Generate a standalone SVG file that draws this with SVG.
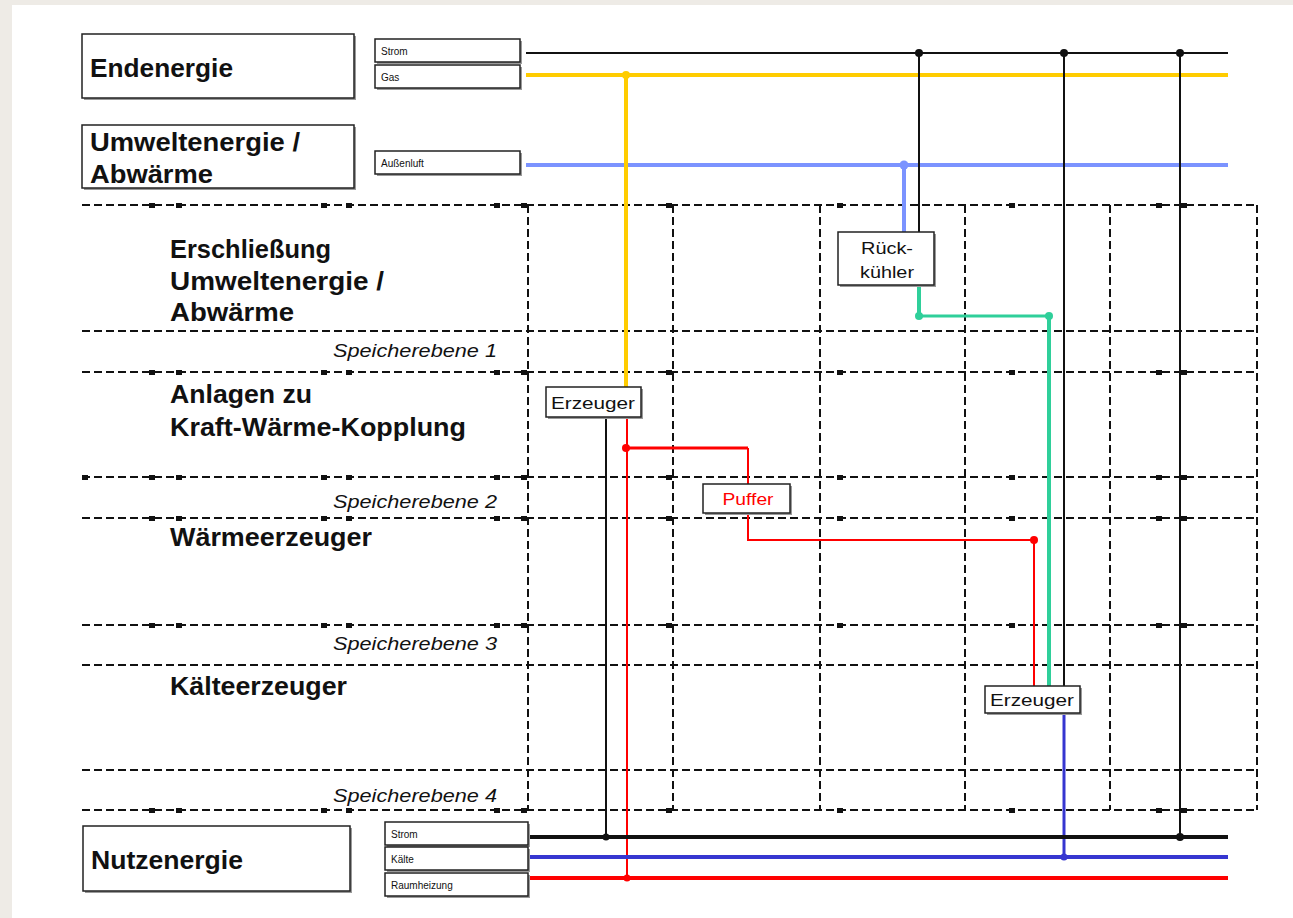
<svg xmlns="http://www.w3.org/2000/svg" xmlns:xlink="http://www.w3.org/1999/xlink" width="1293" height="918" viewBox="0 0 1293 918">
<style>
text{font-family:"Liberation Sans",Arial,sans-serif;fill:#111}
.big{font-size:26px;font-weight:bold}
.row{font-size:26px;font-weight:bold}
.sp{font-size:19px;font-style:italic}
.small{font-size:10px}
.node{font-size:17px;text-anchor:middle}
.box{fill:#fff;stroke:#222;stroke-width:1.5}
.shadow{fill:#9a9a9a}
.grid{stroke:#111;stroke-width:2;stroke-dasharray:8 4;fill:none}
.c{fill:none;stroke-linecap:butt}
</style>
<defs>
<rect id="sq" width="6" height="5" fill="#111"/>
</defs>
<rect x="0" y="0" width="1293" height="918" fill="#eeebe6"/>
<rect x="12" y="5" width="1281" height="913" fill="#fff"/>

<g id="grid">
<path class="grid" d="M82 205H1257M82 331H1257M82 372H1257M82 477H1257M82 518H1257M82 625H1257M82 665H1257M82 770H1257M82 810H1257"/>
<path class="grid" d="M528 205V810M673 205V810M820 205V810M965 205V810M1110 205V810M1257 205V810"/>
<g id="squares">
<use href="#sq" x="149" y="203"/><use href="#sq" x="176" y="203"/><use href="#sq" x="321" y="203"/><use href="#sq" x="346" y="203"/><use href="#sq" x="494" y="203"/><use href="#sq" x="521" y="203"/><use href="#sq" x="666" y="203"/><use href="#sq" x="837" y="203"/><use href="#sq" x="1009" y="203"/><use href="#sq" x="1156" y="203"/><use href="#sq" x="1181" y="203"/>
<use href="#sq" x="149" y="370"/><use href="#sq" x="176" y="370"/><use href="#sq" x="321" y="370"/><use href="#sq" x="346" y="370"/><use href="#sq" x="494" y="370"/><use href="#sq" x="521" y="370"/><use href="#sq" x="666" y="370"/><use href="#sq" x="837" y="370"/><use href="#sq" x="1009" y="370"/><use href="#sq" x="1156" y="370"/><use href="#sq" x="1181" y="370"/>
<use href="#sq" x="82" y="475"/><use href="#sq" x="149" y="475"/><use href="#sq" x="176" y="475"/><use href="#sq" x="321" y="475"/><use href="#sq" x="346" y="475"/><use href="#sq" x="494" y="475"/><use href="#sq" x="521" y="475"/><use href="#sq" x="666" y="475"/><use href="#sq" x="837" y="475"/><use href="#sq" x="1009" y="475"/><use href="#sq" x="1156" y="475"/><use href="#sq" x="1181" y="475"/>
<use href="#sq" x="149" y="516"/><use href="#sq" x="176" y="516"/><use href="#sq" x="321" y="516"/><use href="#sq" x="346" y="516"/><use href="#sq" x="494" y="516"/><use href="#sq" x="521" y="516"/><use href="#sq" x="666" y="516"/><use href="#sq" x="837" y="516"/><use href="#sq" x="1009" y="516"/><use href="#sq" x="1156" y="516"/><use href="#sq" x="1181" y="516"/>
<use href="#sq" x="149" y="623"/><use href="#sq" x="176" y="623"/><use href="#sq" x="321" y="623"/><use href="#sq" x="346" y="623"/><use href="#sq" x="494" y="623"/><use href="#sq" x="521" y="623"/><use href="#sq" x="666" y="623"/><use href="#sq" x="837" y="623"/><use href="#sq" x="1009" y="623"/><use href="#sq" x="1156" y="623"/><use href="#sq" x="1181" y="623"/>
<use href="#sq" x="149" y="808"/><use href="#sq" x="176" y="808"/><use href="#sq" x="321" y="808"/><use href="#sq" x="346" y="808"/><use href="#sq" x="494" y="808"/><use href="#sq" x="521" y="808"/><use href="#sq" x="666" y="808"/><use href="#sq" x="837" y="808"/><use href="#sq" x="1009" y="808"/><use href="#sq" x="1156" y="808"/><use href="#sq" x="1181" y="808"/>
</g>
</g>

<g id="row-labels">
<text class="row" x="170" y="258" textLength="161" lengthAdjust="spacingAndGlyphs">Erschließung</text>
<text class="row" x="170" y="290" textLength="214" lengthAdjust="spacingAndGlyphs">Umweltenergie /</text>
<text class="row" x="170" y="321" textLength="124" lengthAdjust="spacingAndGlyphs">Abwärme</text>
<text class="sp" x="333" y="357" textLength="164" lengthAdjust="spacingAndGlyphs">Speicherebene 1</text>
<text class="row" x="170" y="403" textLength="142" lengthAdjust="spacingAndGlyphs">Anlagen zu</text>
<text class="row" x="170" y="436" textLength="296" lengthAdjust="spacingAndGlyphs">Kraft-Wärme-Kopplung</text>
<text class="sp" x="333" y="508" textLength="164" lengthAdjust="spacingAndGlyphs">Speicherebene 2</text>
<text class="row" x="170" y="546" textLength="202" lengthAdjust="spacingAndGlyphs">Wärmeerzeuger</text>
<text class="sp" x="333" y="650" textLength="164" lengthAdjust="spacingAndGlyphs">Speicherebene 3</text>
<text class="row" x="170" y="695" textLength="177" lengthAdjust="spacingAndGlyphs">Kälteerzeuger</text>
<text class="sp" x="333" y="802" textLength="164" lengthAdjust="spacingAndGlyphs">Speicherebene 4</text>
</g>

<g id="connectors">
<path class="c" d="M526 53H1228" stroke="#111" stroke-width="2"/>
<path class="c" d="M526 75H1228" stroke="#ffcc00" stroke-width="4"/>
<path class="c" d="M526 165H1228" stroke="#7b93ff" stroke-width="4"/>
<path class="c" d="M919 53V232M1064 53V686M1180 53V837" stroke="#111" stroke-width="2"/>
<path class="c" d="M626 75V388" stroke="#ffcc00" stroke-width="4"/>
<path class="c" d="M904 165V232" stroke="#7b93ff" stroke-width="4"/>
<path class="c" d="M919 285V316" stroke="#2fcf9a" stroke-width="4"/>
<path class="c" d="M919 316H1049" stroke="#2fcf9a" stroke-width="3"/>
<path class="c" d="M1049 316V686" stroke="#2fcf9a" stroke-width="4"/>
<path class="c" d="M606 417V837" stroke="#111" stroke-width="2"/>
<path class="c" d="M627 417V878" stroke="#ff0000" stroke-width="2"/>
<path class="c" d="M626 448H748" stroke="#ff0000" stroke-width="3"/>
<path class="c" d="M748 448V484" stroke="#ff0000" stroke-width="2"/>
<path class="c" d="M748 513V540H1034V686" stroke="#ff0000" stroke-width="2"/>
<path class="c" d="M1064 713V857" stroke="#3636d0" stroke-width="3"/>
<path class="c" d="M528 837H1228" stroke="#111" stroke-width="4"/>
<path class="c" d="M528 857H1228" stroke="#3636d0" stroke-width="4"/>
<path class="c" d="M528 878H1228" stroke="#ff0000" stroke-width="4"/>
<g fill="#111">
<circle cx="919" cy="53" r="4"/><circle cx="1064" cy="53" r="4"/><circle cx="1180" cy="53" r="4"/>
<circle cx="1180" cy="837" r="4"/><circle cx="606" cy="837" r="3.5"/>
</g>
<circle cx="626" cy="75" r="4" fill="#ffcc00"/>
<circle cx="904" cy="165" r="4.5" fill="#7b93ff"/>
<circle cx="919" cy="316" r="4" fill="#2fcf9a"/>
<circle cx="1049" cy="316" r="4" fill="#2fcf9a"/>
<circle cx="626" cy="448" r="4" fill="#ff0000"/>
<circle cx="1034" cy="540" r="4" fill="#ff0000"/>
<circle cx="627" cy="878" r="3.5" fill="#ff0000"/>
<circle cx="1064" cy="857" r="3.5" fill="#3636d0"/>
</g>

<g id="endenergie">
<rect class="shadow" x="84" y="36" width="272" height="64"/>
<rect class="box" x="82" y="34" width="272" height="64"/>
<text class="big" x="90" y="77" textLength="143" lengthAdjust="spacingAndGlyphs">Endenergie</text>
</g>
<g id="endenergie-strom">
<rect class="shadow" x="377" y="41" width="145" height="23"/>
<rect class="box" x="375" y="39" width="145" height="23"/>
<text class="small" x="381" y="55">Strom</text>
</g>
<g id="endenergie-gas">
<rect class="shadow" x="377" y="67" width="145" height="23"/>
<rect class="box" x="375" y="65" width="145" height="23"/>
<text class="small" x="381" y="81">Gas</text>
</g>

<g id="umweltenergie">
<rect class="shadow" x="84" y="127" width="272" height="63"/>
<rect class="box" x="82" y="125" width="272" height="63"/>
<text class="big" x="90" y="151" textLength="210" lengthAdjust="spacingAndGlyphs">Umweltenergie /</text>
<text class="big" x="90" y="183" textLength="123" lengthAdjust="spacingAndGlyphs">Abwärme</text>
</g>
<g id="aussenluft">
<rect class="shadow" x="377" y="153" width="145" height="23"/>
<rect class="box" x="375" y="151" width="145" height="23"/>
<text class="small" x="381" y="167">Außenluft</text>
</g>

<g id="rueckkuehler">
<rect class="shadow" x="840" y="234" width="96" height="53"/>
<rect class="box" x="838" y="232" width="96" height="53"/>
<text class="node" x="887" y="254" textLength="52" lengthAdjust="spacingAndGlyphs">Rück-</text>
<text class="node" x="887" y="278" textLength="54" lengthAdjust="spacingAndGlyphs">kühler</text>
</g>

<g id="erzeuger-kwk">
<rect class="shadow" x="548" y="389" width="95" height="30"/>
<rect class="box" x="546" y="387" width="95" height="30"/>
<text class="node" x="593" y="409" textLength="84" lengthAdjust="spacingAndGlyphs">Erzeuger</text>
</g>

<g id="puffer">
<rect class="shadow" x="705" y="486" width="87" height="29"/>
<rect class="box" x="703" y="484" width="87" height="29"/>
<text class="node" x="748" y="505" textLength="51" lengthAdjust="spacingAndGlyphs" style="fill:#ff0000">Puffer</text>
</g>

<g id="erzeuger-kaelte">
<rect class="shadow" x="987" y="688" width="95" height="27"/>
<rect class="box" x="985" y="686" width="95" height="27"/>
<text class="node" x="1032" y="706" textLength="84" lengthAdjust="spacingAndGlyphs">Erzeuger</text>
</g>

<g id="nutzenergie">
<rect class="shadow" x="85" y="828" width="267" height="65"/>
<rect class="box" x="83" y="826" width="267" height="65"/>
<text class="big" x="91" y="869" textLength="152" lengthAdjust="spacingAndGlyphs">Nutzenergie</text>
</g>
<g id="nutz-strom">
<rect class="shadow" x="387" y="824" width="143" height="23"/>
<rect class="box" x="385" y="822" width="143" height="23"/>
<text class="small" x="391" y="838">Strom</text>
</g>
<g id="nutz-kaelte">
<rect class="shadow" x="387" y="849" width="143" height="23"/>
<rect class="box" x="385" y="847" width="143" height="23"/>
<text class="small" x="391" y="863">Kälte</text>
</g>
<g id="nutz-raumheizung">
<rect class="shadow" x="387" y="875" width="143" height="23"/>
<rect class="box" x="385" y="873" width="143" height="23"/>
<text class="small" x="391" y="889">Raumheizung</text>
</g>
</svg>
